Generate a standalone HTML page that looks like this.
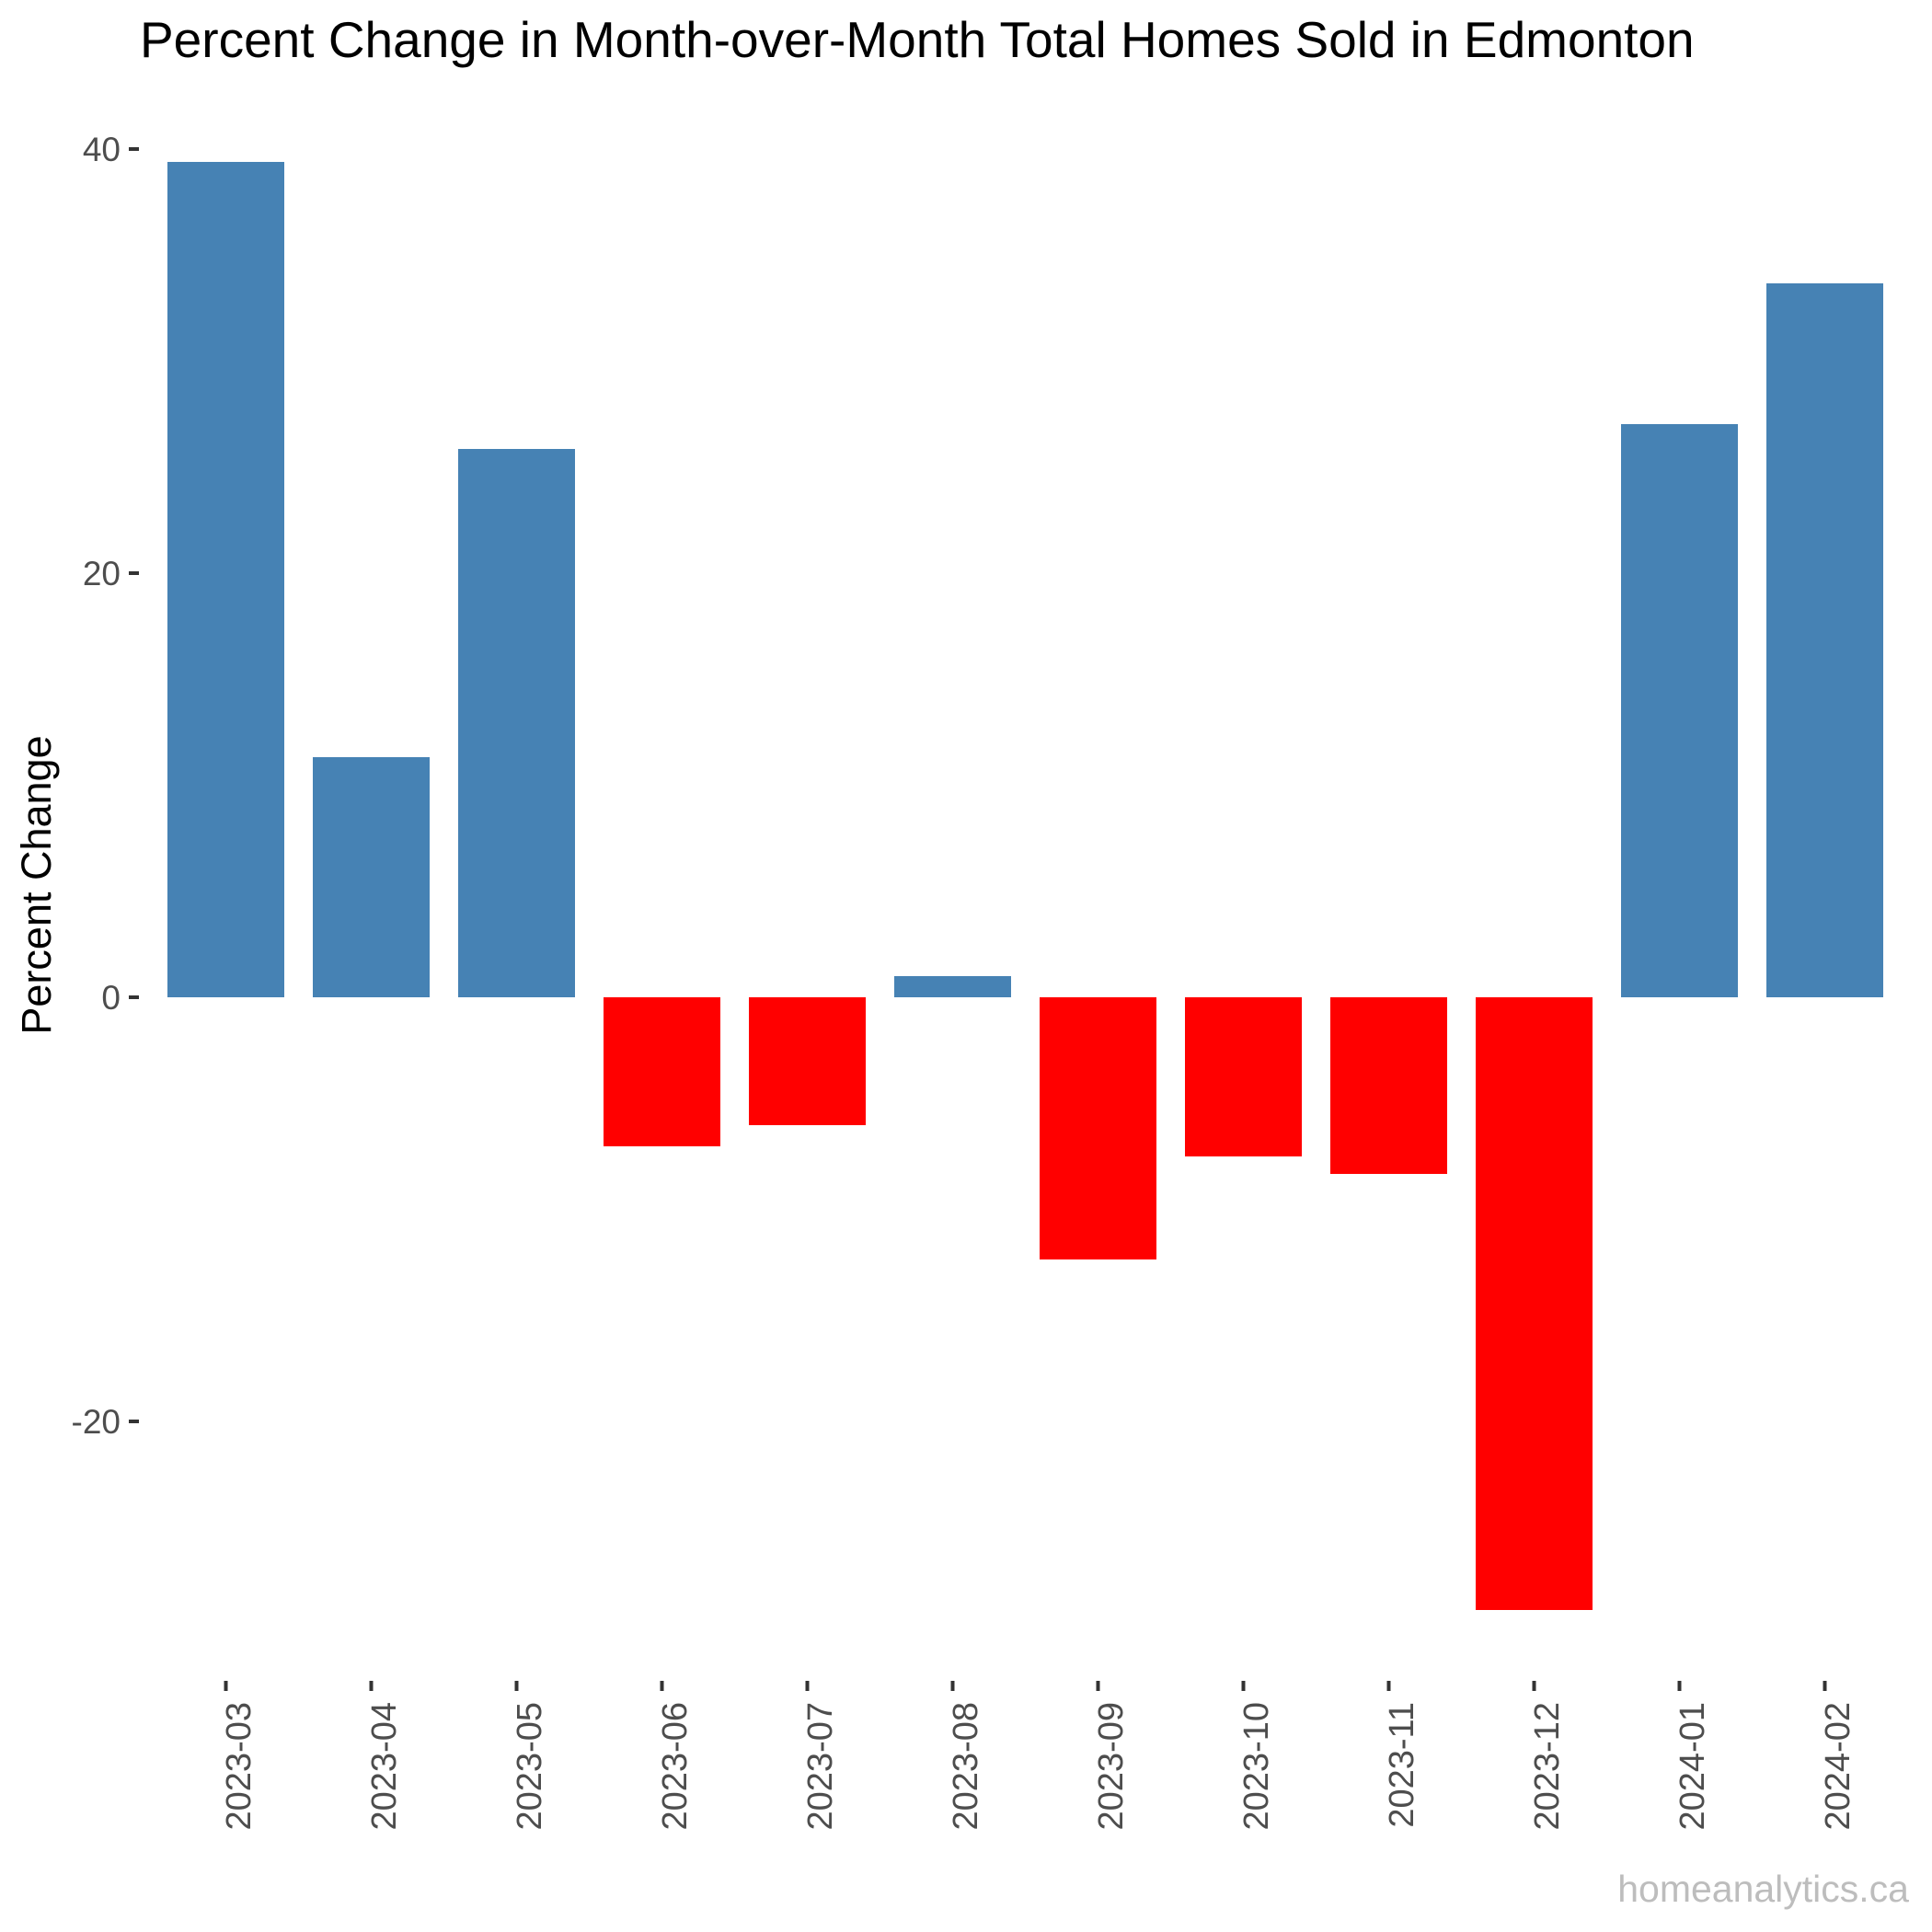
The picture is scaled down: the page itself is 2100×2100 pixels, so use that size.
<!DOCTYPE html>
<html><head><style>body{margin:0;background:#fff}svg{display:block}</style></head>
<body>
<svg width="2100" height="2100" xmlns="http://www.w3.org/2000/svg" font-family="Liberation Sans, Arial, sans-serif">
<rect width="2100" height="2100" fill="#fff"/>
<text x="152" y="62" font-size="55" fill="#000">Percent Change in Month-over-Month Total Homes Sold in Edmonton</text>
<g font-size="37" fill="#4d4d4d" text-anchor="end">
<text x="131" y="175">40</text>
<text x="131" y="636">20</text>
<text x="131" y="1097">0</text>
<text x="131" y="1558">-20</text>
</g>
<g stroke="#333" stroke-width="4">
<line x1="140" y1="162" x2="151" y2="162"/>
<line x1="140" y1="623" x2="151" y2="623"/>
<line x1="140" y1="1084" x2="151" y2="1084"/>
<line x1="140" y1="1545" x2="151" y2="1545"/>
</g>
<text transform="translate(55,962) rotate(-90)" font-size="45" text-anchor="middle" fill="#000">Percent Change</text>
<g>
<rect x="182" y="176" width="127" height="908" fill="#4682b4"/>
<rect x="340" y="823" width="127" height="261" fill="#4682b4"/>
<rect x="498" y="488" width="127" height="596" fill="#4682b4"/>
<rect x="656" y="1084" width="127" height="162" fill="#ff0000"/>
<rect x="814" y="1084" width="127" height="139" fill="#ff0000"/>
<rect x="972" y="1061" width="127" height="23" fill="#4682b4"/>
<rect x="1130" y="1084" width="127" height="285" fill="#ff0000"/>
<rect x="1288" y="1084" width="127" height="173" fill="#ff0000"/>
<rect x="1446" y="1084" width="127" height="192" fill="#ff0000"/>
<rect x="1604" y="1084" width="127" height="666" fill="#ff0000"/>
<rect x="1762" y="461" width="127" height="623" fill="#4682b4"/>
<rect x="1920" y="308" width="127" height="776" fill="#4682b4"/>
</g>
<g stroke="#333" stroke-width="4">
<line x1="245.5" y1="1827" x2="245.5" y2="1838"/><line x1="403.5" y1="1827" x2="403.5" y2="1838"/>
<line x1="561.5" y1="1827" x2="561.5" y2="1838"/><line x1="719.5" y1="1827" x2="719.5" y2="1838"/>
<line x1="877.5" y1="1827" x2="877.5" y2="1838"/><line x1="1035.5" y1="1827" x2="1035.5" y2="1838"/>
<line x1="1193.5" y1="1827" x2="1193.5" y2="1838"/><line x1="1351.5" y1="1827" x2="1351.5" y2="1838"/>
<line x1="1509.5" y1="1827" x2="1509.5" y2="1838"/><line x1="1667.5" y1="1827" x2="1667.5" y2="1838"/>
<line x1="1825.5" y1="1827" x2="1825.5" y2="1838"/><line x1="1983.5" y1="1827" x2="1983.5" y2="1838"/>
</g>
<g font-size="38" fill="#4d4d4d" text-anchor="end">
<text transform="translate(272,1850) rotate(-90)">2023-03</text>
<text transform="translate(430,1850) rotate(-90)">2023-04</text>
<text transform="translate(588,1850) rotate(-90)">2023-05</text>
<text transform="translate(746,1850) rotate(-90)">2023-06</text>
<text transform="translate(904,1850) rotate(-90)">2023-07</text>
<text transform="translate(1062,1850) rotate(-90)">2023-08</text>
<text transform="translate(1220,1850) rotate(-90)">2023-09</text>
<text transform="translate(1378,1850) rotate(-90)">2023-10</text>
<text transform="translate(1536,1850) rotate(-90)">2023-11</text>
<text transform="translate(1694,1850) rotate(-90)">2023-12</text>
<text transform="translate(1852,1850) rotate(-90)">2024-01</text>
<text transform="translate(2010,1850) rotate(-90)">2024-02</text>
</g>
<text x="2075" y="2067" font-size="41" fill="#bdbdbd" text-anchor="end">homeanalytics.ca</text>
</svg>
</body></html>
